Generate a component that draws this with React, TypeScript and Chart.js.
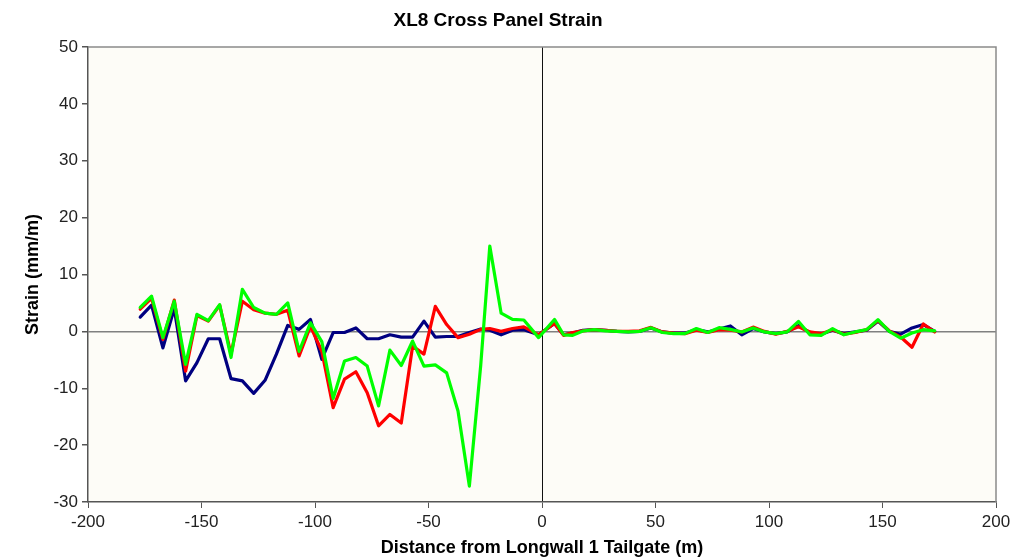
import React, { useEffect, useRef } from "react";
import { Chart, registerables } from "chart.js";

Chart.register(...registerables);

// Distance from Longwall 1 Tailgate (m)
const distance = [
  -177, -172, -167, -162, -157, -152, -147, -142, -137, -132,
  -127, -122, -117, -112, -107, -102, -97, -92, -87, -82,
  -77, -72, -67, -62, -57, -52, -47, -42, -37, -32,
  -27, -23, -18, -13, -8, -1.5, 5.5, 9.5, 13.5, 18,
  23, 28, 33, 38, 43, 48, 53, 58, 63, 68,
  73, 78, 83, 88, 93, 98, 103, 108, 113, 118,
  123, 128, 133, 138, 143, 148, 153, 158, 163, 168,
  173,
];

// Strain (mm/m) — navy series
const strainNavy = [
  2.5, 4.6, -2.9, 4.0, -8.7, -5.5, -1.3, -1.3, -8.3, -8.7,
  -10.9, -8.6, -4.0, 1.05, 0.35, 2.1, -4.9, -0.2, -0.2, 0.6,
  -1.3, -1.3, -0.6, -1.0, -1.0, 1.8, -1.0, -0.9, -0.9, -0.2,
  0.4, 0.2, -0.6, 0.2, 0.3, -0.6, 1.4, -0.6, -0.3, 0.2,
  0.3, 0.2, 0.0, -0.1, 0.0, 0.6, -0.1, -0.3, -0.3, 0.3,
  -0.1, 0.4, 0.95, -0.6, 0.5, -0.1, -0.4, -0.1, 1.0, -0.2,
  -0.5, 0.2, -0.4, -0.1, 0.2, 1.8, 0.0, -0.5, 0.6, 1.2,
  0.0,
];

// Strain (mm/m) — red series
const strainRed = [
  3.9, 5.8, -1.4, 5.5, -7.0, 2.8, 1.8, 4.6, -4.0, 5.3,
  3.8, 3.2, 3.0, 3.7, -4.3, 0.9, -3.5, -13.4, -8.4, -7.1,
  -10.8, -16.6, -14.6, -16.1, -2.6, -4.0, 4.4, 1.2, -1.1, -0.5,
  0.35, 0.5, 0.0, 0.5, 0.8, -0.6, 1.4, -0.7, -0.2, 0.1,
  0.3, 0.2, 0.0, 0.0, 0.1, 0.7, -0.1, -0.3, -0.4, 0.2,
  -0.2, 0.3, 0.2, -0.1, 0.75, 0.0, -0.5, 0.0, 0.8, -0.1,
  -0.4, 0.3, -0.5, -0.2, 0.3, 1.9, 0.1, -1.0, -2.8, 1.3,
  -0.1,
];

// Strain (mm/m) — green series
const strainGreen = [
  4.2, 6.2, -1.1, 5.3, -5.8, 3.0, 1.9, 4.7, -4.6, 7.4,
  4.2, 3.2, 3.0, 5.0, -3.5, 1.5, -1.8, -11.8, -5.2, -4.6,
  -6.1, -13.1, -3.3, -6.0, -1.7, -6.1, -5.9, -7.3, -14.0, -27.2,
  -6.0, 15.0, 3.2, 2.1, 2.0, -1.1, 2.1, -0.6, -0.7, 0.06,
  0.3, 0.1, 0.0, -0.1, 0.0, 0.64, -0.2, -0.4, -0.4, 0.5,
  -0.2, 0.65, 0.35, -0.1, 0.6, -0.1, -0.4, -0.1, 1.75, -0.6,
  -0.7, 0.47, -0.6, -0.1, 0.3, 2.05, 0.0, -1.2, -0.3, 0.3,
  0.1,
];

const xTickValues = [-200, -150, -100, -50, 0, 50, 100, 150, 200];
const yTickValues = [-30, -20, -10, 0, 10, 20, 30, 40, 50];

const FONT = "'Liberation Sans', Arial, Helvetica, sans-serif";

const plotFramePlugin = {
  id: "plotFrame",
  beforeDraw(chart: any) {
    const { ctx, chartArea: a, width, height } = chart;
    ctx.save();
    ctx.fillStyle = "#ffffff";
    ctx.fillRect(0, 0, width, height);
    ctx.fillStyle = "#FDFCF7";
    ctx.fillRect(a.left, a.top, a.right - a.left, a.bottom - a.top);
    ctx.restore();
  },
  beforeDatasetsDraw(chart: any) {
    const { ctx, chartArea: a } = chart;
    ctx.save();
    ctx.strokeStyle = "#8a8a8a";
    ctx.lineWidth = 1.5;
    ctx.beginPath();
    ctx.moveTo(a.left, a.top);
    ctx.lineTo(a.right, a.top);
    ctx.lineTo(a.right, a.bottom);
    ctx.stroke();
    ctx.restore();
  },
};

function pts(ys: number[]) {
  return distance.map((x, i) => ({ x, y: ys[i] }));
}

function lineStyle(color: string, order: number) {
  return {
    borderColor: color,
    backgroundColor: color,
    borderWidth: 3.2,
    borderJoinStyle: "round",
    borderCapStyle: "round",
    pointRadius: 0,
    tension: 0,
    order,
  };
}

export default function App() {
  const ref = useRef<HTMLCanvasElement | null>(null);

  useEffect(() => {
    if (!ref.current) return;
    const chart = new Chart(ref.current, {
      type: "line",
      data: {
        datasets: [
          { label: "Series A", data: pts(strainNavy), ...lineStyle("#000080", 2) },
          { label: "Series B", data: pts(strainRed), ...lineStyle("#FF0000", 1) },
          { label: "Series C", data: pts(strainGreen), ...lineStyle("#00FF00", 0) },
        ],
      },
      options: {
        animation: false,
        responsive: false,
        devicePixelRatio: 1,
        layout: { padding: { left: 0, right: 23, top: 0, bottom: 0 } },
        plugins: {
          legend: { display: false },
          tooltip: { enabled: false },
          title: {
            display: true,
            text: "XL8 Cross Panel Strain",
            color: "#000",
            font: { family: FONT, size: 19, weight: "bold" },
            padding: { top: 9.5, bottom: 14.7 },
          },
        },
        scales: {
          x: {
            type: "linear",
            min: -200,
            max: 200,
            afterBuildTicks: (s: any) => {
              s.ticks = xTickValues.map((v) => ({ value: v }));
            },
            afterFit: (s: any) => {
              s.height = 58;
            },
            ticks: {
              color: "#222",
              font: { family: FONT, size: 17 },
              padding: 4,
              maxRotation: 0,
              autoSkip: false,
            },
            grid: {
              color: (c: any) => (c.tick && c.tick.value === 0 ? "#111" : "rgba(0,0,0,0)"),
              lineWidth: 1,
              tickColor: "#555",
              tickLength: 6,
            },
            border: { display: true, color: "#555", width: 1.5 },
            title: {
              display: true,
              text: "Distance from Longwall 1 Tailgate (m)",
              color: "#000",
              font: { family: FONT, size: 18, weight: "bold" },
              padding: { top: 0, bottom: 1.2 },
            },
          },
          y: {
            type: "linear",
            min: -30,
            max: 50,
            afterBuildTicks: (s: any) => {
              s.ticks = yTickValues.map((v) => ({ value: v }));
            },
            afterFit: (s: any) => {
              s.width = 88;
            },
            ticks: {
              color: "#222",
              font: { family: FONT, size: 17 },
              padding: 4,
              autoSkip: false,
            },
            grid: {
              color: (c: any) => (c.tick && c.tick.value === 0 ? "#808080" : "rgba(0,0,0,0)"),
              lineWidth: 1.5,
              tickColor: "#555",
              tickLength: 6,
            },
            border: { display: true, color: "#555", width: 1.5 },
            title: {
              display: true,
              text: "Strain (mm/m)",
              color: "#000",
              font: { family: FONT, size: 18, weight: "bold" },
              padding: { top: 22, bottom: 0 },
            },
          },
        },
      },
      plugins: [plotFramePlugin],
    } as any);
    return () => chart.destroy();
  }, []);

  return (
    <div style={{ position: "fixed", left: 0, top: 0, width: 1019, height: 560, background: "#fff" }}>
      <canvas ref={ref} width={1019} height={560} style={{ display: "block", width: 1019, height: 560 }} />
    </div>
  );
}
